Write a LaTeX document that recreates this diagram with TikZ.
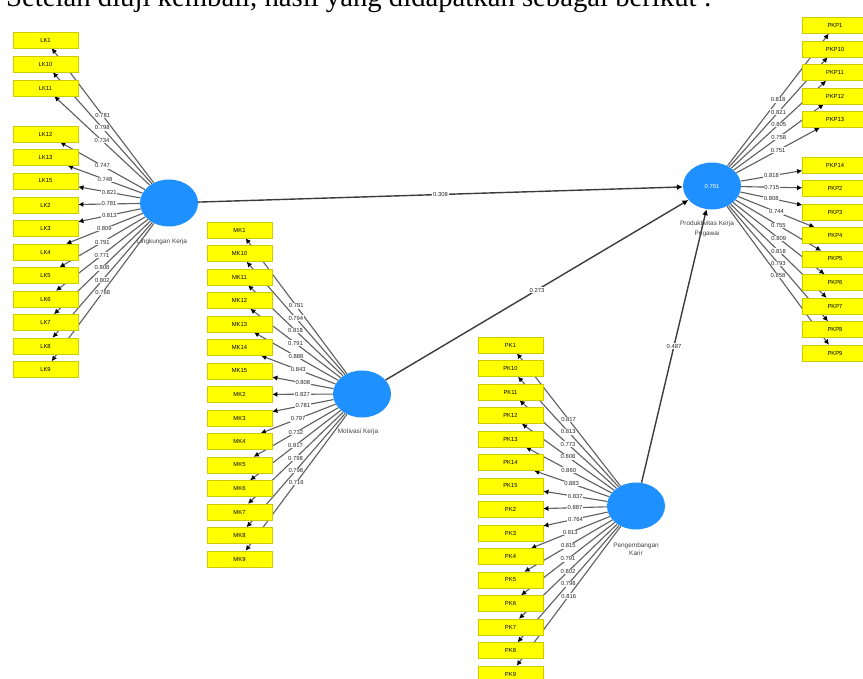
\documentclass[tikz,border=0pt]{standalone}
\usepackage{fontspec}
\setmainfont{Liberation Sans}
\newfontfamily\serifx{Liberation Serif}
\usetikzlibrary{arrows.meta,shapes.geometric}
\pgfdeclarelayer{bg}
\pgfsetlayers{bg,main}
\definecolor{lvblue}{RGB}{30,144,255}
\definecolor{mvyellow}{RGB}{255,255,0}
\definecolor{lnk}{RGB}{95,95,95}
\definecolor{pthc}{RGB}{60,60,60}
\begin{document}
\begin{tikzpicture}[x=0.03cm,y=-0.03cm,
  mv/.style={rectangle, fill=mvyellow, draw=mvyellow!80!black, line width=0.3pt,
    minimum width=1.95cm, minimum height=0.48cm, inner sep=0,
    font=\fontsize{5}{6}\selectfont},
  lv/.style={ellipse, fill=lvblue, minimum width=1.74cm, minimum height=1.41cm,
    inner sep=0, text=white, font=\fontsize{5}{6}\selectfont},
  ld/.style={draw=lnk, line width=0.95pt, -{Latex[length=4.5pt,width=4.5pt,color=black]}},
  pth/.style={draw=pthc, line width=1.2pt, -{Latex[length=5pt,width=5pt,color=black]}},
  wt/.style={fill=white, inner sep=0.6pt, font=\fontsize{5}{6}\selectfont, text=black!85},
  lvcap/.style={font=\fontsize{5.5}{6.5}\selectfont, align=center, text=black!75, inner sep=0}]
\useasboundingbox (0,0) rectangle (863,679);

\node[anchor=base west, font=\serifx\fontsize{24.5}{27}\selectfont, inner sep=0] (title) at (6,7)
  {Setelah diuji kembali, hasil yang didapatkan sebagai berikut :};

% latent variables
\node[lv] (LK) at (169,203) {};
\node[lv] (MK) at (362,394) {};
\node[lv] (PK) at (636,506) {};
\node[lv] (KP) at (712,186) {0.761};
\node[lvcap] (cLK) at (162,242) {Lingkungan Kerja};
\node[lvcap] (cMK) at (358,432) {Motivasi Kerja};
\node[lvcap] (cPK) at (636,549) {Pengembangan\\Karir};
\node[lvcap] (cKP) at (707,229) {Produktivitas Kerja\\[2.5pt]Pegawai};

% indicators: Lingkungan Kerja
\foreach \lab/\yy/\vv [count=\i] in {LK1/40/0.781,LK10/64/0.798,LK11/88/0.734,
  LK12/134/0.747,LK13/157.5/0.748,LK15/181/0.821,LK2/205/0.781,LK3/228.5/0.813,
  LK4/252/0.809,LK5/275.5/0.791,LK6/299/0.771,LK7/322.5/0.808,LK8/346/0.802,LK9/369.5/0.788}{
  \node[mv] (L\i) at (45.5,\yy) {\lab};
  \begin{pgfonlayer}{bg}
    \draw[ld] (LK) -- node[wt]{\vv} (L\i);
  \end{pgfonlayer}
}
% indicators: Motivasi Kerja
\foreach \lab/\vv [count=\i] in {MK1/0.781,MK10/0.794,MK11/0.818,MK12/0.791,MK13/0.888,
  MK14/0.843,MK15/0.808,MK2/0.827,MK3/0.781,MK4/0.797,MK5/0.732,MK6/0.817,
  MK7/0.798,MK8/0.798,MK9/0.716}{
  \node[mv] (M\i) at (239.5,{230+23.5*(\i-1)}) {\lab};
  \begin{pgfonlayer}{bg}
    \draw[ld] (MK) -- node[wt]{\vv} (M\i);
  \end{pgfonlayer}
}
% indicators: Pengembangan Karir
\foreach \lab/\vv [count=\i] in {PK1/0.817,PK10/0.813,PK11/0.773,PK12/0.808,PK13/0.860,
  PK14/0.883,PK15/0.837,PK2/0.887,PK3/0.764,PK4/0.813,PK5/0.815,PK6/0.791,
  PK7/0.802,PK8/0.798,PK9/0.816}{
  \node[mv] (P\i) at (510.5,{345+23.5*(\i-1)}) {\lab};
  \begin{pgfonlayer}{bg}
    \draw[ld] (PK) -- node[wt]{\vv} (P\i);
  \end{pgfonlayer}
}
% indicators: Produktivitas Kerja Pegawai
\foreach \lab/\yy/\vv [count=\i] in {PKP1/25.5/0.818,PKP10/49/0.821,PKP11/72.5/0.805,
  PKP12/96/0.758,PKP13/119.5/0.751,PKP14/165/0.818,PKP2/188.5/0.715,PKP3/212/0.808,
  PKP4/235.5/0.744,PKP5/259/0.755,PKP6/282.5/0.809,PKP7/306/0.818,PKP8/329.5/0.793,
  PKP9/353/0.858}{
  \node[mv] (R\i) at (835,\yy) {\lab};
  \begin{pgfonlayer}{bg}
    \draw[ld] (KP) -- node[wt]{\vv} (R\i);
  \end{pgfonlayer}
}

% structural paths
\begin{pgfonlayer}{bg}
\draw[pth] (LK) -- node[wt]{0.308} (KP);
\draw[pth] (MK) -- node[wt]{0.273} (KP);
\draw[pth] (PK) -- node[wt]{0.487} (KP);
\end{pgfonlayer}
\end{tikzpicture}
\end{document}
